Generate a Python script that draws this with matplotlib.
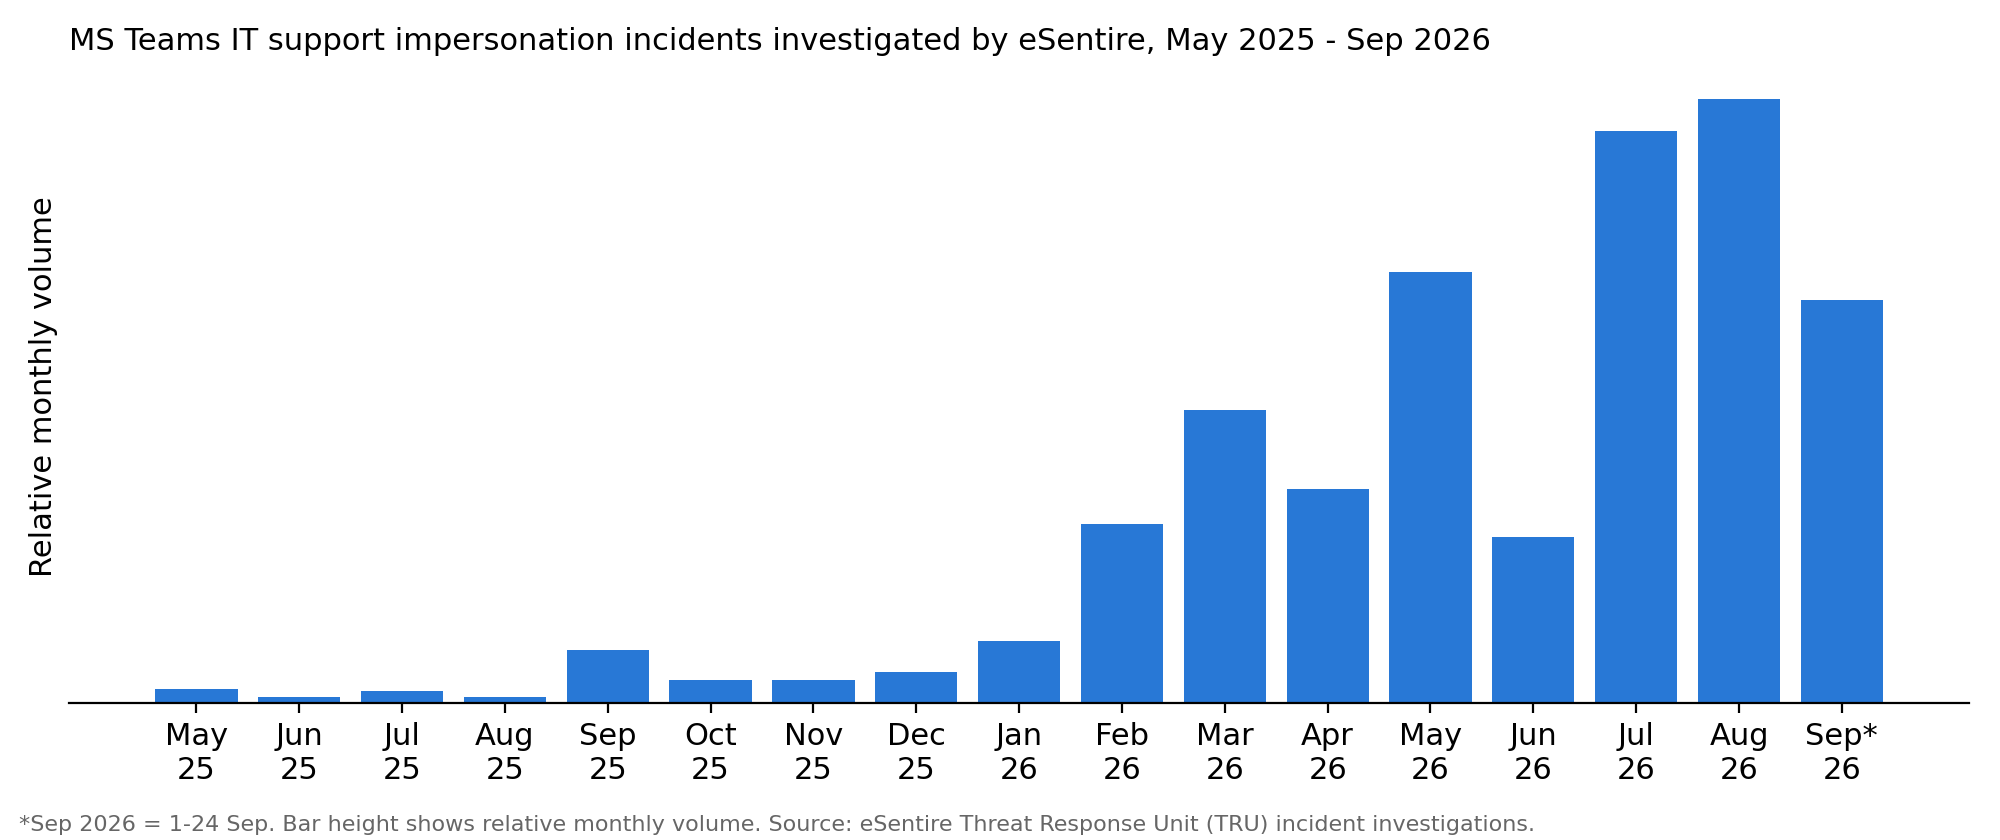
import matplotlib
matplotlib.use("Agg")
import matplotlib.pyplot as plt

months = ["May\n25","Jun\n25","Jul\n25","Aug\n25","Sep\n25","Oct\n25","Nov\n25","Dec\n25","Jan\n26",
          "Feb\n26","Mar\n26","Apr\n26","May\n26","Jun\n26","Jul\n26","Aug\n26","Sep*\n26"]
values = [11,4,9,4,41,18,18,24,48,140,230,168,338,130,449,474,316]

fig = plt.figure(figsize=(10,4.2), dpi=200)
ax = fig.add_axes([54/1568, 1-552/660, 1490/1568, (552-55)/660])
x = list(range(len(values)))
ax.bar(x, values, width=0.8, color="#2878D6")
ax.set_xticks(x)
ax.set_xticklabels(months, fontsize=11)
ax.set_xlim(-1.24, 17.24)
ax.set_ylim(0, 497)
ax.set_yticks([])
for s in ["top","right","left"]:
    ax.spines[s].set_visible(False)
ax.set_ylabel("Relative monthly volume", fontsize=11)
fig.text(54/1568, 1-33/660, "MS Teams IT support impersonation incidents investigated by eSentire, May 2025 - Sep 2026",
         fontsize=11, va="center", ha="left")
fig.text(15/1568, 1-648/660, "*Sep 2026 = 1-24 Sep. Bar height shows relative monthly volume. Source: eSentire Threat Response Unit (TRU) incident investigations.",
         fontsize=8, color="#666666", va="center", ha="left")
fig.savefig("out.png", dpi=200)
